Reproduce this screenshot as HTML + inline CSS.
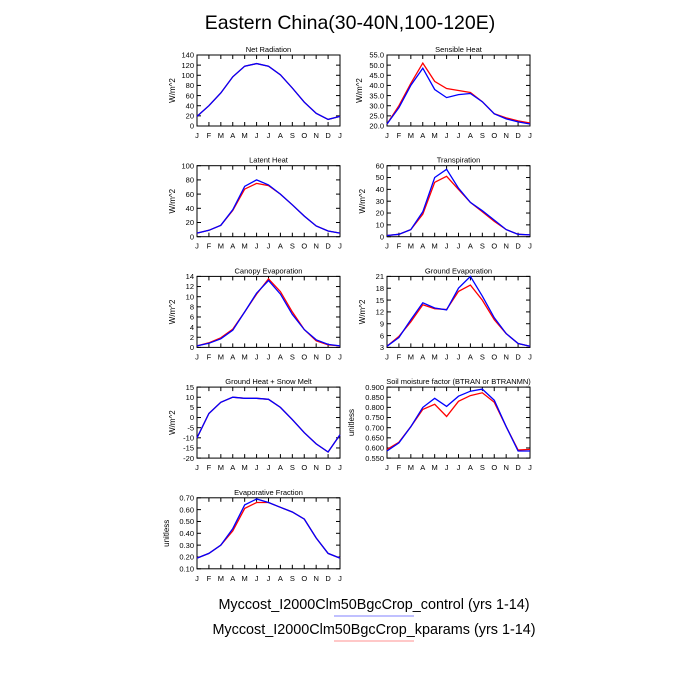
<!DOCTYPE html>
<html><head><meta charset="utf-8"><style>body{margin:0;background:#fff}svg{display:block}</style></head>
<body>
<svg id="s" width="700" height="700" xmlns="http://www.w3.org/2000/svg" font-family="Liberation Sans, sans-serif">
<text x="350" y="29" font-size="19.5" text-anchor="middle">Eastern China(30-40N,100-120E)</text>
<text x="374" y="609" font-size="14.4" text-anchor="middle">Myccost_I2000Clm50BgcCrop_control (yrs 1-14)</text>
<line x1="334" y1="616" x2="414" y2="616" stroke="#8080ff" stroke-width="1"/>
<text x="374" y="634" font-size="14.4" text-anchor="middle">Myccost_I2000Clm50BgcCrop_kparams (yrs 1-14)</text>
<line x1="334" y1="641" x2="414" y2="641" stroke="#ff9090" stroke-width="1"/>
</svg>
<script>
var P=[
{t:"Net Radiation",c:0,r:0,min:0,max:140,st:20,d:0,u:"W/m^2",b:[19,40,65,97,118,123,118,101,75,47,25,13,19],rd:[19,40,65,97,118,123,118,101,75,47,25,13,19]},
{t:"Sensible Heat",c:1,r:0,min:20,max:55,st:5,d:1,u:"W/m^2",b:[21,29,40,48.5,38,34,35.5,36,32,26,23.5,22,21],rd:[21,30,41,51,42,38.5,37.5,36.5,32,26,24,22.5,21.5]},
{t:"Latent Heat",c:0,r:1,min:0,max:100,st:20,d:0,u:"W/m^2",b:[5,9,16,38,71,80,73,60,45,29,15,8,5],rd:[5,9,16,37,67,75,72,60,45,29,15,8,5]},
{t:"Transpiration",c:1,r:1,min:0,max:60,st:10,d:0,u:"W/m^2",b:[1,2,6,21,50,57,41,29,22,14,6,2,1.5],rd:[1,2,6,19,46,51,40,29,21,13,6,2,1.5]},
{t:"Canopy Evaporation",c:0,r:2,min:0,max:14,st:2,d:0,u:"W/m^2",b:[0.3,0.8,1.7,3.4,7,10.7,13.2,10.5,6.5,3.5,1.5,0.6,0.3],rd:[0.3,0.9,1.9,3.6,7,10.5,13.5,11,7,3.5,1.3,0.5,0.3]},
{t:"Ground Evaporation",c:1,r:2,min:3,max:21,st:3,d:0,u:"W/m^2",b:[3.3,5.5,10,14.3,13,12.5,18,21,16,10.5,6.5,4,3.3],rd:[3.3,5.8,9.5,13.8,12.8,12.6,17.2,18.8,15,10,6.5,4,3.3]},
{t:"Ground Heat + Snow Melt",c:0,r:3,min:-20,max:15,st:5,d:0,u:"W/m^2",b:[-10,2,7.5,10,9.5,9.5,9,5,-1,-7.5,-13,-17,-8.5],rd:[-10,2,7.5,10,9.5,9.5,9,5,-1,-7.5,-13,-17,-8.5]},
{t:"Soil moisture factor (BTRAN or BTRANMN)",c:1,r:3,min:0.55,max:0.9,st:0.05,d:3,u:"unitless",b:[.585,.625,.705,.8,.845,.805,.855,.88,.89,.835,.705,.585,.585],rd:[.593,.628,.705,.79,.815,.755,.83,.858,.872,.825,.705,.59,.593]},
{t:"Evaporative Fraction",c:0,r:4,min:0.1,max:0.7,st:0.1,d:2,u:"unitless",b:[.19,.23,.3,.44,.64,.69,.66,.62,.58,.52,.36,.23,.19],rd:[.19,.23,.3,.42,.61,.66,.66,.62,.58,.52,.36,.23,.19]}
];
var M="JFMAMJJASONDJ",s=document.getElementById("s"),h="";
P.forEach(function(p){
 var x0=p.c?387:197,w=143,y0=55+p.r*110.7,H=71;
 var X=function(i){return x0+i*w/12},Y=function(v){return y0+H-(v-p.min)/(p.max-p.min)*H};
 h+='<text x="'+(x0+w/2)+'" y="'+(y0-3)+'" font-size="7.5" text-anchor="middle">'+p.t+'</text>';
 h+='<rect x="'+x0+'" y="'+y0+'" width="'+w+'" height="'+H+'" fill="none" stroke="#000" stroke-width="1"/>';
 for(var i=0;i<13;i++){var x=X(i);h+='<line x1="'+x+'" y1="'+(y0+H)+'" x2="'+x+'" y2="'+(y0+H-4)+'" stroke="#000"/><line x1="'+x+'" y1="'+y0+'" x2="'+x+'" y2="'+(y0+4)+'" stroke="#000"/>';
 h+='<text x="'+x+'" y="'+(y0+H+12)+'" font-size="7.5" text-anchor="middle">'+M[i]+'</text>';}
 var n=Math.round((p.max-p.min)/p.st);
 for(var k=0;k<=n;k++){var v=p.min+k*p.st,y=Y(v);
 h+='<line x1="'+x0+'" y1="'+y+'" x2="'+(x0+4)+'" y2="'+y+'" stroke="#000"/><line x1="'+(x0+w)+'" y1="'+y+'" x2="'+(x0+w-4)+'" y2="'+y+'" stroke="#000"/>';
 h+='<text x="'+(x0-3)+'" y="'+(y+2.7)+'" font-size="7.5" text-anchor="end">'+v.toFixed(p.d)+'</text>';}
 h+='<text transform="translate('+(x0-(p.d==3?33:p.d==2?28:p.d==1?25:22))+','+(y0+H/2)+') rotate(-90)" font-size="8" text-anchor="middle">'+p.u+'</text>';
 [["rd","#f00"],["b","#00f"]].forEach(function(q){h+='<polyline fill="none" stroke="'+q[1]+'" stroke-width="1.3" points="'+p[q[0]].map(function(v,i){return X(i).toFixed(1)+','+Y(v).toFixed(1)}).join(' ')+'"/>';});
});
s.insertAdjacentHTML("beforeend",h);
</script>
</body></html>
